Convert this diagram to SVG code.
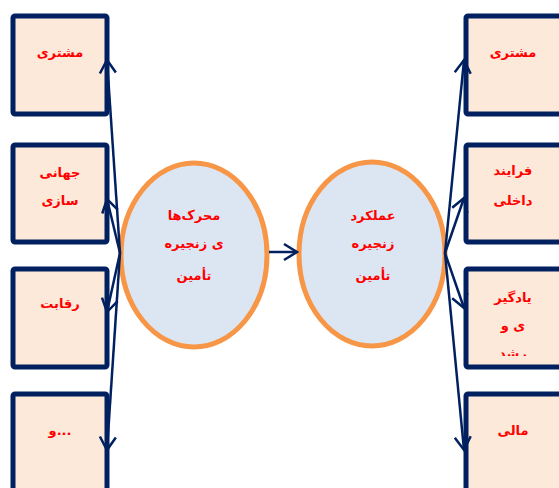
<svg xmlns="http://www.w3.org/2000/svg" width="559" height="488" viewBox="0 0 559 488">
<style>
.box{fill:#FDE9D9;stroke:#002060;stroke-width:5;}
.ell{fill:#DCE6F2;stroke:#F79646;stroke-width:5;}
.t{font-family:"DejaVu Sans",sans-serif;font-weight:bold;font-size:13px;fill:#FF0000;text-anchor:middle;}
.c{stroke:#002060;stroke-width:2.5;fill:none;marker-end:url(#ah);}
</style>
<defs>
<marker id="ah" markerUnits="userSpaceOnUse" markerWidth="30" markerHeight="30" refX="0" refY="0" viewBox="-20 -15 30 30" orient="auto" overflow="visible">
<path d="M-13,-8 L0,0 L-13,8" fill="none" stroke="#002060" stroke-width="2.5"/>
</marker>
<clipPath id="clip3"><rect x="466" y="269" width="100" height="87"/></clipPath>
</defs>
<rect width="559" height="488" fill="#fff"/>
<g id="L1"><rect class="box" x="13" y="16" width="94" height="98" rx="2"/><text class="t" x="60" y="57">مشتری</text></g>
<g id="L2"><rect class="box" x="13" y="145" width="94" height="97" rx="2"/><text class="t" x="60" y="177">جهانی</text><text class="t" x="60" y="205">سازی</text></g>
<g id="L3"><rect class="box" x="13" y="269" width="94" height="98" rx="2"/><text class="t" x="60" y="308">رقابت</text></g>
<g id="L4"><rect class="box" x="13" y="394" width="94" height="100" rx="2"/><text class="t" x="60" y="435">و...</text></g>
<g id="R1"><rect class="box" x="466" y="16" width="100" height="98" rx="2"/><text class="t" x="513" y="57">مشتری</text></g>
<g id="R2"><rect class="box" x="466" y="145" width="100" height="97" rx="2"/><text class="t" x="513" y="175">فرایند</text><text class="t" x="513" y="205">داخلی</text></g>
<g id="R3"><rect class="box" x="466" y="269" width="100" height="98" rx="2"/><text class="t" x="513" y="302">یادگیر</text><text class="t" x="513" y="330">ی و</text><text class="t" x="513" y="358" clip-path="url(#clip3)">رشد</text></g>
<g id="R4"><rect class="box" x="466" y="394" width="100" height="100" rx="2"/><text class="t" x="513" y="435">مالی</text></g>
<g id="E1"><ellipse class="ell" cx="194" cy="255" rx="73" ry="92"/><text class="t" x="194" y="220">محرک‌ها</text><text class="t" x="194" y="248">ی زنجیره</text><text class="t" x="194" y="280">تأمین</text></g>
<g id="E2"><ellipse class="ell" cx="372" cy="254" rx="73" ry="92"/><text class="t" x="373" y="220">عملکرد</text><text class="t" x="373" y="248">زنجیره</text><text class="t" x="373" y="280">تأمین</text></g>
<g id="connectors">
<line class="c" x1="269" y1="252" x2="297" y2="252"/>
<line class="c" x1="120" y1="253" x2="107" y2="60"/>
<line class="c" x1="120" y1="253" x2="107" y2="199"/>
<line class="c" x1="120" y1="253" x2="107" y2="312"/>
<line class="c" x1="120" y1="253" x2="107" y2="450"/>
<line class="c" x1="445" y1="253" x2="464" y2="60"/>
<line class="c" x1="445" y1="253" x2="464" y2="198"/>
<line class="c" x1="445" y1="253" x2="464" y2="308"/>
<line class="c" x1="445" y1="253" x2="464" y2="450"/>
</g>
</svg>
